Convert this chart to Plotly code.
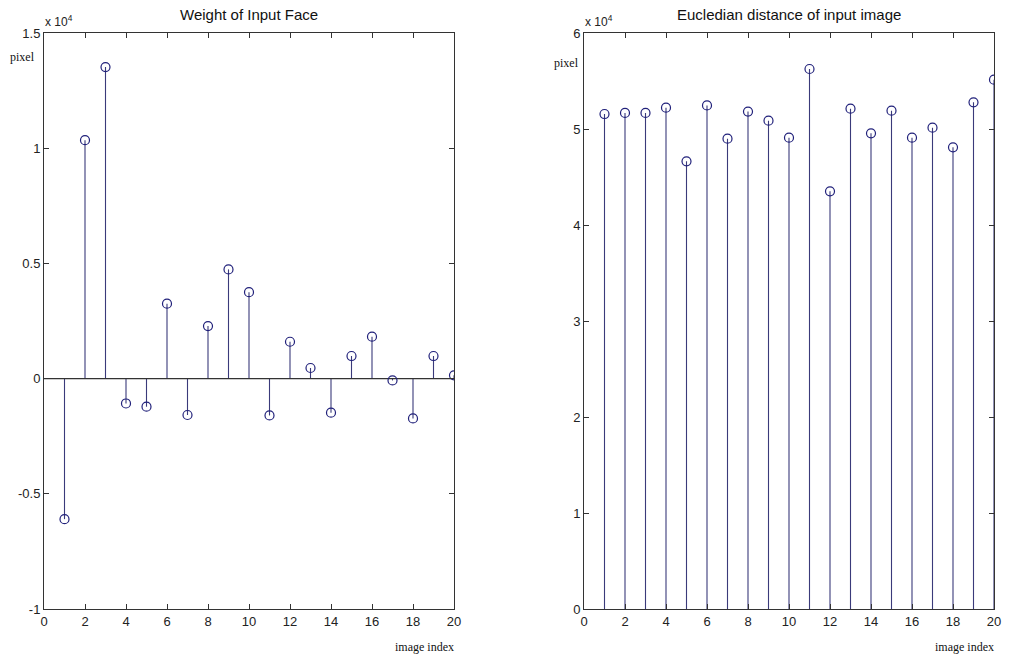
import plotly.graph_objects as go

# ---- data ----
image_index = list(range(1, 21))
weights = [-6100, 10350, 13520, -1080, -1220, 3250, -1580, 2280, 4740, 3750,
           -1600, 1600, 460, -1480, 980, 1820, -80, -1730, 980, 140]
distances = [51560, 51670, 51670, 52220, 46630, 52460, 48990, 51810, 50870, 49100,
             56250, 43510, 52120, 49550, 51910, 49100, 50140, 48090, 52780, 55140]

x_ticks = [0, 2, 4, 6, 8, 10, 12, 14, 16, 18, 20]
left_yticks = [-10000, -5000, 0, 5000, 10000, 15000]
left_ytext = ["-1", "-0.5", "0", "0.5", "1", "1.5"]
right_yticks = [0, 10000, 20000, 30000, 40000, 50000, 60000]
right_ytext = ["0", "1", "2", "3", "4", "5", "6"]

titles = ["Weight of Input Face", "Eucledian distance of input image"]

W, H = 1011, 659
STEM = "#3a3a7a"
MARK = "#20207a"
AX = "#333333"


def stems(xs, ys, base=0):
    sx, sy = [], []
    for x, y in zip(xs, ys):
        sx += [x, x, None]
        sy += [base, y, None]
    return sx, sy


fig = go.Figure()

# left stems
sx, sy = stems(image_index, weights)
fig.add_trace(go.Scatter(x=sx, y=sy, mode="lines", line=dict(color=STEM, width=1.1),
                         xaxis="x", yaxis="y", hoverinfo="skip", showlegend=False))
fig.add_trace(go.Scatter(x=[0, 20], y=[0, 0], mode="lines", line=dict(color=AX, width=1.1),
                         xaxis="x", yaxis="y", hoverinfo="skip", showlegend=False))
fig.add_trace(go.Scatter(x=image_index, y=weights, mode="markers",
                         marker=dict(symbol="circle-open", size=9, color=MARK, line=dict(width=1.2)),
                         xaxis="x", yaxis="y", showlegend=False))

# right stems
sx, sy = stems(image_index, distances)
fig.add_trace(go.Scatter(x=sx, y=sy, mode="lines", line=dict(color=STEM, width=1.1),
                         xaxis="x2", yaxis="y2", hoverinfo="skip", showlegend=False))
fig.add_trace(go.Scatter(x=image_index, y=distances, mode="markers",
                         marker=dict(symbol="circle-open", size=9, color=MARK, line=dict(width=1.2)),
                         xaxis="x2", yaxis="y2", showlegend=False))

y_dom = [1 - 609 / H, 1 - 33 / H]
lx = [44 / W, 454 / W]
rx = [584 / W, 994 / W]

tickfont = dict(family="Liberation Sans, Arial", size=13, color="#222")
common = dict(showline=True, linecolor=AX, linewidth=1, mirror="ticks", ticks="inside",
              ticklen=5, tickcolor=AX, showgrid=False, zeroline=False, tickfont=tickfont,
              automargin=False)

fig.update_layout(
    width=W, height=H,
    margin=dict(l=0, r=0, t=0, b=0, pad=0),
    paper_bgcolor="white", plot_bgcolor="white",
    xaxis=dict(domain=lx, range=[0, 20], tickvals=x_ticks, anchor="y", **common),
    yaxis=dict(domain=y_dom, range=[-10000, 15000], tickvals=left_yticks, ticktext=left_ytext,
               anchor="x", **common),
    xaxis2=dict(domain=rx, range=[0, 20], tickvals=x_ticks, anchor="y2", **common),
    yaxis2=dict(domain=y_dom, range=[0, 60000], tickvals=right_yticks, ticktext=right_ytext,
                anchor="x2", **common),
)

serif = dict(family="Liberation Serif, Times New Roman", size=12, color="#111")
ann = []
for dom, title in zip([lx, rx], titles):
    ann.append(dict(text=title, x=(dom[0] + dom[1]) / 2, y=1 - 15 / H, xref="paper", yref="paper",
                    showarrow=False, xanchor="center", yanchor="middle",
                    font=dict(family="Liberation Sans, Arial", size=15, color="#111")))
    ann.append(dict(text="x 10<sup>4</sup>", x=dom[0] - 1 / W, y=1 - 31 / H, xref="paper", yref="paper",
                    showarrow=False, xanchor="left", yanchor="bottom",
                    font=dict(family="Liberation Sans, Arial", size=12, color="#222")))
    ann.append(dict(text="image index", x=dom[1] + 2 / W, y=1 - 647 / H, xref="paper", yref="paper",
                    showarrow=False, xanchor="right", yanchor="middle", font=serif))
ann.append(dict(text="pixel", x=22 / W, y=1 - 57 / H, xref="paper", yref="paper",
                showarrow=False, xanchor="center", yanchor="middle", font=serif))
ann.append(dict(text="pixel", x=566 / W, y=1 - 63 / H, xref="paper", yref="paper",
                showarrow=False, xanchor="center", yanchor="middle", font=serif))
fig.update_layout(annotations=ann)

fig.write_html("out.html", config={"displayModeBar": False},
               post_script="document.body.style.margin='0';document.body.style.overflow='hidden';")
